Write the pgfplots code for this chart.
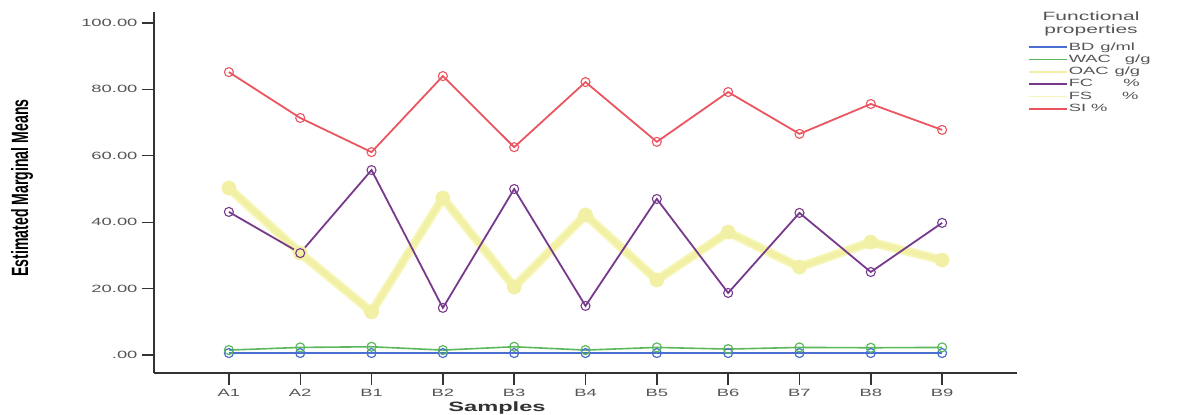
\documentclass[border=0pt]{standalone}
\usepackage{pgfplots}
\pgfplotsset{compat=1.18}
\usepackage{fontspec}
\setmainfont{Liberation Sans}
\newfontfamily\wf[FakeStretch=1.75]{Liberation Sans}
\newfontfamily\nf[FakeStretch=0.6]{Liberation Sans}
\definecolor{cBD}{HTML}{4A6FD0}
\definecolor{cWAC}{HTML}{5CB85C}
\definecolor{cOAC}{HTML}{F1F0A4}
\definecolor{cFS}{HTML}{F6F6B8}
\definecolor{cFC}{HTML}{77398C}
\definecolor{cSI}{HTML}{EA5560}
\definecolor{ax}{HTML}{333333}
\definecolor{tl}{HTML}{555555}
\begin{document}
\begin{tikzpicture}[x=1pt,y=1pt]
\path (0,0) rectangle (1185,414);
\begin{axis}[
  at={(154pt,41pt)}, anchor=south west,
  scale only axis, width=863pt, height=361pt,
  xmin=-1.05, xmax=11.05, ymin=-5.4, ymax=103.3,
  axis x line*=bottom, axis y line*=left,
  axis line style={ax, line width=1.4pt, -},
  xtick={0,...,10},
  xticklabels={A1,A2,B1,B2,B3,B4,B5,B6,B7,B8,B9},
  ytick={0,20,40,60,80,100},
  yticklabels={.00,20.00,40.00,60.00,80.00,100.00},
  tick align=outside, major tick length=12pt,
  tick style={ax, line width=1.4pt},
  ticklabel style={font=\wf\fontsize{10.5}{12}\selectfont, text=tl},
  xticklabel style={yshift=-1pt},
  yticklabel style={xshift=-1pt},
  legend style={at={(1.0127,0.92)}, anchor=north west, draw=none, fill=none,
    font=\wf\fontsize{10.5}{11}\selectfont, text=tl,
    inner sep=0pt, row sep=0pt,
    nodes={inner sep=1pt, text height=8pt, text depth=2.3pt},
    /tikz/every even column/.append style={column sep=1pt}},
  legend cell align=left,
  legend image code/.code={\draw[#1,mark=none] (0pt,0pt) -- (38pt,0pt);},
  clip=false,
]
% FS (behind)
\addplot[forget plot, cFS, line width=9pt, line join=round] coordinates {
(0,50.3) (1,30.7) (2,13.0) (3,47.3) (4,20.5) (5,42.2) (6,22.6) (7,37.0) (8,26.5) (9,34.0) (10,28.6)};
% BD
\addplot[forget plot, cBD, line width=1.6pt, mark=o, mark size=4.5pt, mark options={line width=1.2pt}] coordinates {
(0,0.6) (1,0.6) (2,0.6) (3,0.6) (4,0.6) (5,0.6) (6,0.6) (7,0.6) (8,0.6) (9,0.6) (10,0.6)};
% WAC
\addplot[forget plot, cWAC, line width=1.6pt, mark=o, mark size=4.5pt, mark options={line width=1.2pt}] coordinates {
(0,1.5) (1,2.3) (2,2.5) (3,1.5) (4,2.5) (5,1.5) (6,2.3) (7,1.8) (8,2.3) (9,2.2) (10,2.3)};
% OAC
\addplot[forget plot, cOAC, line width=5pt, line join=round, mark=*, mark size=5pt] coordinates {
(0,50.3) (1,30.7) (2,13.0) (3,47.3) (4,20.5) (5,42.2) (6,22.6) (7,37.0) (8,26.5) (9,34.0) (10,28.6)};
% FC
\addplot[forget plot, cFC, line width=1.8pt, mark=o, mark size=4.5pt, mark options={line width=1.1pt, fill=white}] coordinates {
(0,43.1) (1,30.7) (2,55.7) (3,14.2) (4,50.0) (5,14.8) (6,47.0) (7,18.7) (8,42.8) (9,25.0) (10,39.8)};
% SI
\addplot[forget plot, cSI, line width=1.8pt, mark=o, mark size=4.5pt, mark options={line width=1.1pt, fill=white}] coordinates {
(0,85.2) (1,71.4) (2,61.1) (3,84.0) (4,62.6) (5,82.2) (6,64.2) (7,79.2) (8,66.6) (9,75.6) (10,67.8)};
\addlegendimage{cBD, line width=1.6pt}
\addlegendentry{BD\hspace{6pt}g/ml}
\addlegendimage{cWAC, line width=1.6pt}
\addlegendentry{WAC\hspace{14pt}g/g}
\addlegendimage{cOAC, line width=1.6pt}
\addlegendentry{OAC\hspace{6pt}g/g}
\addlegendimage{cFC, line width=1.6pt}
\addlegendentry{FC\hspace{30pt}\%}
\addlegendimage{cFS, line width=1.6pt}
\addlegendentry{FS\hspace{30pt}\%}
\addlegendimage{cSI, line width=1.6pt}
\addlegendentry{SI\hspace{5pt}\%}
\end{axis}
\node[font=\wf\fontsize{12}{12.5}\selectfont, text=tl, align=center, inner sep=0pt] at (1091,390) {Functional\\properties};
\node[font=\nf\bfseries\fontsize{23.5}{24}\selectfont, rotate=90, inner sep=0pt] at (22,226) {Estimated Marginal Means};
\node[font=\wf\bfseries\fontsize{13.5}{14}\selectfont, text=ax, inner sep=0pt] at (497,6) {Samples};
\end{tikzpicture}
\end{document}
